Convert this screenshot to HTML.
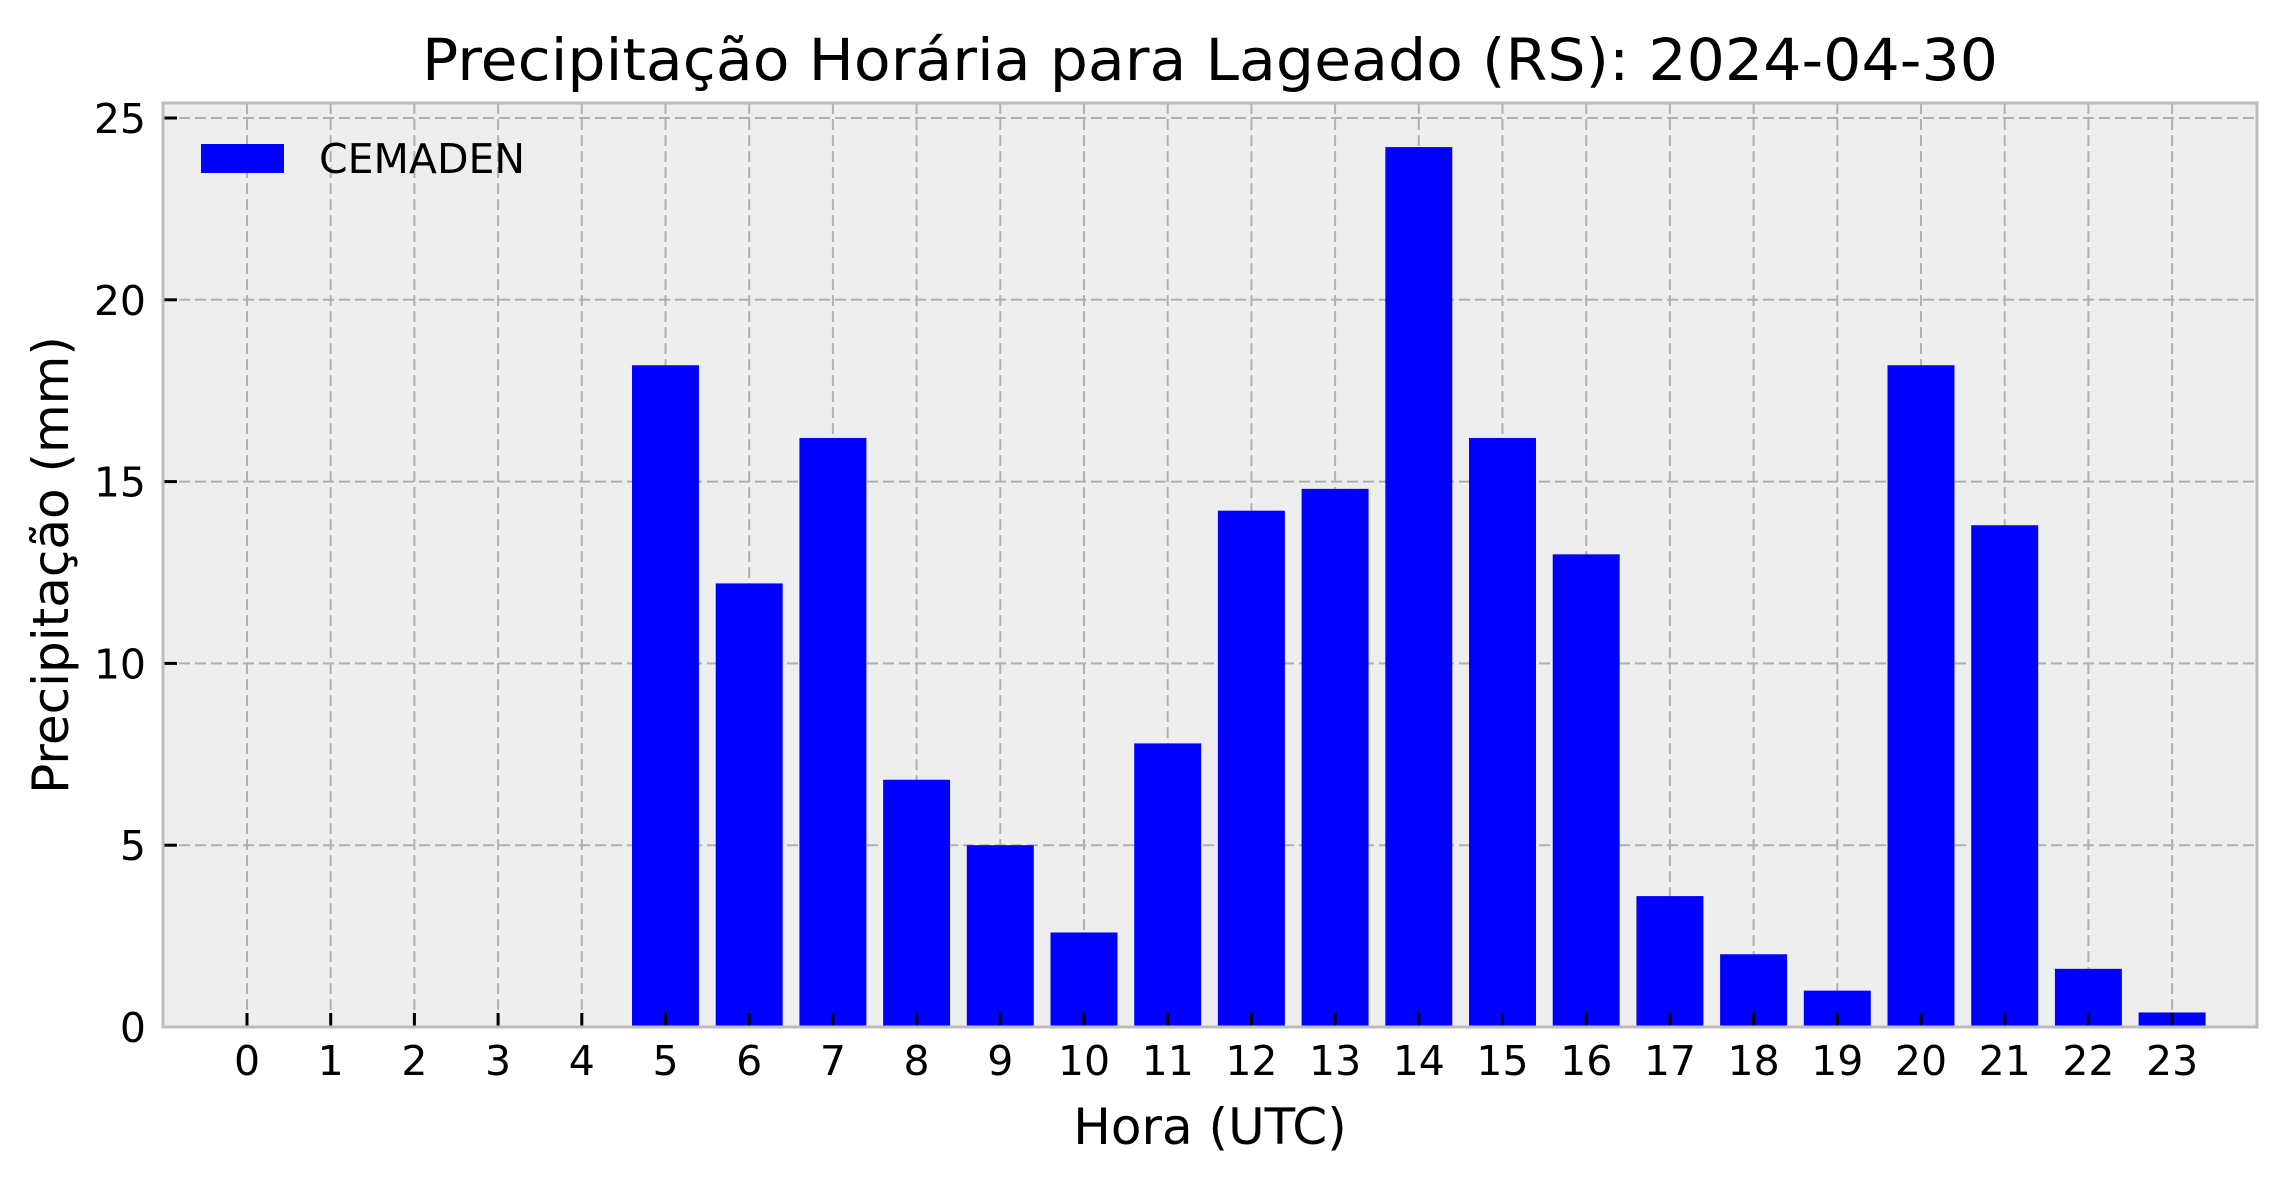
<!DOCTYPE html>
<html><head><meta charset="utf-8"><style>
html,body{margin:0;padding:0;background:#fff;}
svg{display:block;font-family:"DejaVu Sans","Liberation Sans",sans-serif;}
</style></head><body>
<svg id="chart" width="2285" height="1178" viewBox="0 0 2285 1178" xmlns="http://www.w3.org/2000/svg">
<text x="1210" y="80" font-size="58" text-anchor="middle" textLength="1576" lengthAdjust="spacingAndGlyphs">Precipitação Horária para Lageado (RS): 2024-04-30</text>
<rect x="163" y="103" width="2094" height="924" fill="#eeeeee"/>
<g id="grid"></g>
<g id="bars"></g>
<g id="ticks"></g>
<rect x="163" y="103" width="2094" height="924" fill="none" stroke="#bcbcbc" stroke-width="3"/>
<g>
<rect x="201" y="144" width="83" height="29" fill="#0000ff"/>
<text x="319" y="173" font-size="41">CEMADEN</text>
</g>
<text x="1210" y="1144" font-size="50" text-anchor="middle">Hora (UTC)</text>
<text x="0" y="0" font-size="50" text-anchor="middle" transform="translate(68,565) rotate(-90)">Precipitação (mm)</text>
</svg>
<script>
const categories = [0,1,2,3,4,5,6,7,8,9,10,11,12,13,14,15,16,17,18,19,20,21,22,23];
const values = [0,0,0,0,0,18.2,12.2,16.2,6.8,5.0,2.6,7.8,14.2,14.8,24.2,16.2,13.0,3.6,2.0,1.0,18.2,13.8,1.6,0.4];
const yTicks = [0,5,10,15,20,25];
const NS = "http://www.w3.org/2000/svg";
const x0 = 247, step = 83.7, yBase = 1027, yPer = 36.36;
function xs(i){ return x0 + i*step; }
function ys(v){ return yBase - v*yPer; }
const grid = document.getElementById('grid');
const bars = document.getElementById('bars');
const ticks = document.getElementById('ticks');
function mk(tag, attrs, parent){ const e=document.createElementNS(NS,tag); for(const k in attrs) e.setAttribute(k,attrs[k]); parent.appendChild(e); return e; }
yTicks.forEach(t=>{
  const y=ys(t);
  const g=mk('line',{x1:163,x2:2257,y1:y,y2:y,stroke:'#b0b0b0','stroke-width':2,'stroke-dasharray':'11,5'},grid);
  
  
  const tk=mk('line',{x1:163,x2:177,y1:y,y2:y,stroke:'#000','stroke-width':3},ticks);
  
  
  const lb=mk('text',{x:146,y:y+15,'font-size':41,'text-anchor':'end'},ticks);
  lb.textContent=t;
  
  
});
categories.forEach((c,i)=>{
  const x=xs(i);
  const g=mk('line',{x1:x,x2:x,y1:103,y2:1027,stroke:'#b0b0b0','stroke-width':2,'stroke-dasharray':'11,5'},grid);
  
  
  const v=values[i];
  if(v>0){
    const b=mk('rect',{x:x-0.4*step,y:ys(v),width:0.8*step,height:yBase-ys(v),fill:'#0000ff'},bars);
    
    
  }
  const tk=mk('line',{x1:x,x2:x,y1:1013,y2:1027,stroke:'#000','stroke-width':3},ticks);
  
  
  const lb=mk('text',{x:x,y:1075,'font-size':41,'text-anchor':'middle'},ticks);
  lb.textContent=c;
  
  
});
</script>
</body></html>
